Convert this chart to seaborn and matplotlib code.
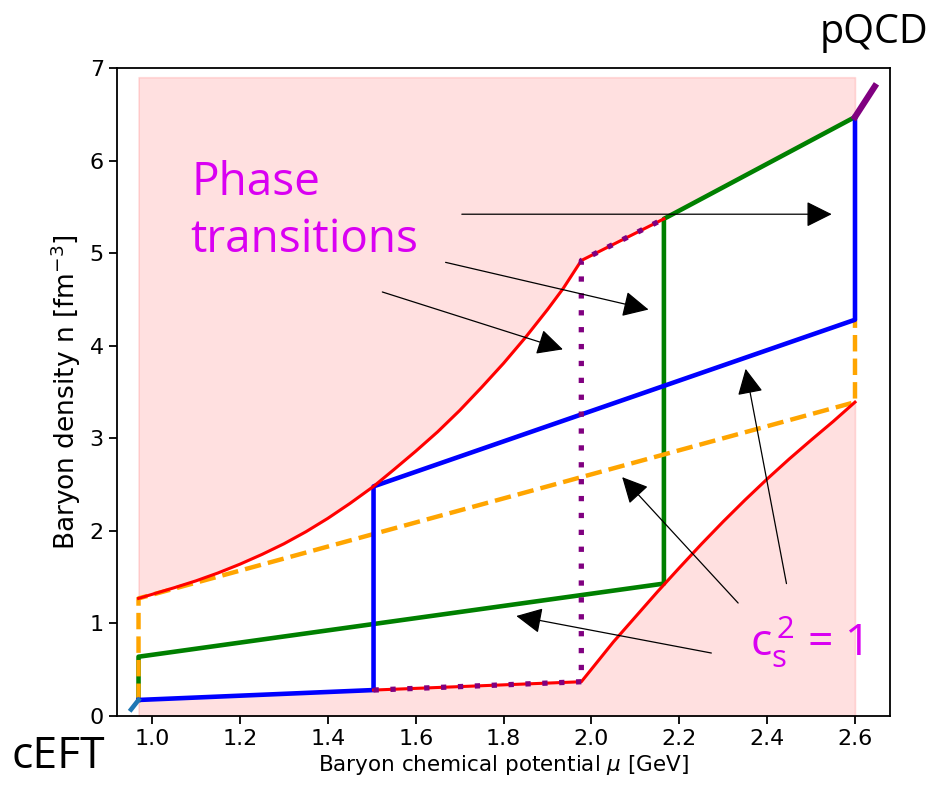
import matplotlib
matplotlib.use("Agg")
import matplotlib.pyplot as plt
import seaborn as sns

# ---- data: baryon density n [fm^-3] versus chemical potential mu [GeV] ----
# upper (stiffest) boundary, ending on the first-order transition plateau
mu_red_up = [0.969, 1.05, 1.10, 1.15, 1.20, 1.25, 1.30, 1.35, 1.40, 1.45, 1.504,
             1.55, 1.60, 1.65, 1.70, 1.75, 1.80, 1.85, 1.90, 1.936, 1.977, 2.165]
n_red_up = [1.27, 1.385, 1.46, 1.545, 1.64, 1.745, 1.86, 1.99, 2.135, 2.295, 2.48,
            2.66, 2.86, 3.07, 3.30, 3.55, 3.81, 4.09, 4.39, 4.62, 4.92, 5.37]
# lower (softest) boundary
mu_red_low = [1.504, 1.977, 2.00, 2.05, 2.10, 2.15, 2.20, 2.25, 2.30, 2.35, 2.40,
              2.45, 2.50, 2.55, 2.60]
n_red_low = [0.28, 0.37, 0.505, 0.80, 1.07, 1.34, 1.60, 1.855, 2.10, 2.335, 2.56,
             2.775, 2.98, 3.18, 3.39]
# phase-transition path (dotted)
mu_pt = [1.504, 1.977, 1.977, 2.165]
n_pt = [0.28, 0.37, 4.92, 5.37]
# example equations of state with c_s^2 = 1 segments
mu_green = [0.969, 0.969, 2.165, 2.165, 2.600]
n_green = [0.173, 0.64, 1.43, 5.37, 6.47]
mu_blue = [0.969, 1.504, 1.504, 2.600, 2.600]
n_blue = [0.173, 0.28, 2.48, 4.28, 6.47]
mu_orange = [0.969, 0.969, 2.600, 2.600]
n_orange = [0.173, 1.27, 3.39, 4.28]
# matching limits
mu_cEFT = [0.952, 0.969]
n_cEFT = [0.07, 0.173]
mu_pQCD = [2.600, 2.645]
n_pQCD = [6.47, 6.80]
n_top = 6.9

# arrows: (tail, tip) in data units
arrows_pt = [((1.705, 5.42), (2.547, 5.42)),
             ((1.668, 4.90), (2.130, 4.39)),
             ((1.524, 4.58), (1.935, 3.96))]
arrows_cs = [((2.444, 1.43), (2.351, 3.75)),
             ((2.334, 1.22), (2.070, 2.58)),
             ((2.273, 0.68), (1.829, 1.08))]

x_ticks = [1.0, 1.2, 1.4, 1.6, 1.8, 2.0, 2.2, 2.4, 2.6]
y_ticks = [0, 1, 2, 3, 4, 5, 6, 7]

plt.rcParams.update({
    "axes.linewidth": 1.3,
    "xtick.major.width": 1.3, "ytick.major.width": 1.3,
    "xtick.major.size": 6, "ytick.major.size": 6,
    "xtick.labelsize": 16, "ytick.labelsize": 16,
})

fig = plt.figure(figsize=(9.36, 7.9), dpi=100)
ax = fig.add_axes([0.125, 0.0937, 0.826, 0.8203])

# excluded region (outside the allowed band)
shade = dict(color="red", alpha=0.12, lw=1.2, zorder=1)
ax.fill_between(mu_red_up + [mu_green[-1]], n_red_up + [n_green[-1]], n_top, **shade)
ax.fill_between([mu_blue[0]] + mu_red_low, 0, [n_blue[0]] + n_red_low, **shade)

line = dict(sort=False, estimator=None, ax=ax, legend=False)
sns.lineplot(x=mu_green, y=n_green, color="green", lw=3.3, zorder=2.0, **line)
sns.lineplot(x=mu_orange, y=n_orange, color="orange", lw=3.2, linestyle="--", zorder=2.1, **line)
sns.lineplot(x=mu_blue, y=n_blue, color="blue", lw=3.3, zorder=2.2, **line)
sns.lineplot(x=mu_red_up, y=n_red_up, color="red", lw=2.2, zorder=2.3, **line)
sns.lineplot(x=mu_red_low, y=n_red_low, color="red", lw=2.2, zorder=2.3, **line)
sns.lineplot(x=mu_pt, y=n_pt, color="purple", lw=3.8, linestyle=(0, (1, 2.2)), zorder=2.4, **line)
sns.lineplot(x=mu_cEFT, y=n_cEFT, color="#1f77b4", lw=3.3, zorder=2.5, **line)
sns.lineplot(x=mu_pQCD, y=n_pQCD, color="purple", lw=4.5, zorder=2.5, **line)

arrow_kw = dict(arrowstyle="-|>,head_length=0.4,head_width=0.2", color="black",
                lw=0.9, mutation_scale=40, shrinkA=0, shrinkB=0)
for tail, tip in arrows_pt + arrows_cs:
    ax.annotate("", xy=tip, xytext=tail, arrowprops=arrow_kw, zorder=3)

magenta = "#d900f2"
ax.text(1.090, 5.63, "Phase", color=magenta, fontsize=33, family="Open Sans", va="baseline")
ax.text(1.086, 5.01, "transitions", color=magenta, fontsize=33, family="Open Sans", va="baseline")
ax.text(2.360, 0.65, r"$\mathregular{c_s^{\,2}}$ = 1", color=magenta, fontsize=32,
        family="Open Sans", va="baseline")

fig.text(820 / 936, 1 - 43 / 790, "pQCD", fontsize=28.5, family="Open Sans", va="baseline")
fig.text(12 / 936, 1 - 768 / 790, "cEFT", fontsize=32, family="Open Sans", va="baseline")

ax.set_xlim(0.92, 2.68)
ax.set_ylim(0, 7)
ax.set_xticks(x_ticks)
ax.set_yticks(y_ticks)
ax.set_xlabel(r"Baryon chemical potential $\mu$ [GeV]", fontsize=15.5, labelpad=3)
ax.set_ylabel(r"Baryon density n [fm$^{-3}$]", fontsize=19, labelpad=5)

fig.savefig("out.png", dpi=100)
